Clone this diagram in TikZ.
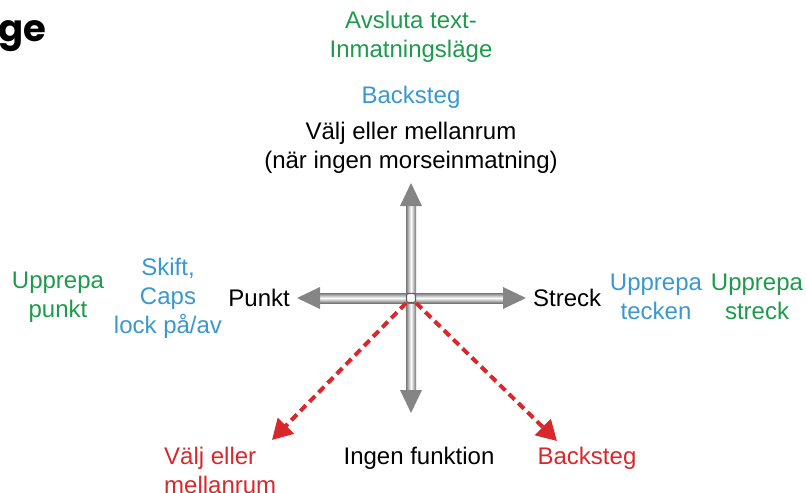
\documentclass[tikz,border=0pt]{standalone}
\usepackage{fontspec}
\setmainfont{Liberation Sans}
\newfontfamily\titlefont{Poppins}
\usetikzlibrary{arrows.meta}
\definecolor{tgreen}{HTML}{1E9A4C}
\definecolor{tblue}{HTML}{3A98CF}
\definecolor{tred}{HTML}{D8282C}
\definecolor{tgray}{HTML}{777777}
\tikzset{
  lbl/.style={inner sep=0pt, align=center, font=\fontsize{24}{29}\selectfont},
  shaftv/.style={left color=tgray, right color=tgray, middle color=white, draw=none},
  shafth/.style={top color=tgray, bottom color=tgray, middle color=white, draw=none},
  headfill/.style={fill=tgray!90, draw=none},
  redarrow/.style={draw=tred, line width=4pt, dash pattern=on 8pt off 5pt, -{Triangle[length=20pt,width=22pt,fill=tred]}},
}
\begin{document}
\begin{tikzpicture}[x=1pt,y=-1pt]
\useasboundingbox (0,0) rectangle (807,493);
\coordinate (c) at (411,298);
\coordinate (tipU) at (411,183);
\coordinate (tipD) at (411,413);
\coordinate (tipL) at (297,298);
\coordinate (tipR) at (526,298);
% shafts
\shade[shaftv] (406,203) rectangle (416,393);
\shade[shafth] (317,293) rectangle (506,303);
% heads
\fill[headfill] (tipU) -- (400,206) -- (422,206) -- cycle;
\fill[headfill] (tipD) -- (400,390) -- (422,390) -- cycle;
\fill[headfill] (tipL) -- (320,287) -- (320,309) -- cycle;
\fill[headfill] (tipR) -- (503,287) -- (503,309) -- cycle;
% center
\node[draw=tgray!80!black, line width=1.2pt, fill=white, inner sep=0pt, minimum size=9pt, rounded corners=2pt] (ctr) at (c) {};
% red dashed
\coordinate (redL) at (272,440);
\coordinate (redR) at (557,441);
\draw[redarrow] (ctr) -- (redL);
\draw[redarrow] (ctr) -- (redR);
% title
\node[anchor=west, inner sep=0pt, font=\titlefont\bfseries\fontsize{37}{42}\selectfont] (title) at (-2,36) {ge};
% top
\node[lbl, text=tgreen] (exit) at (411,37) {Avsluta text-\\Inmatningsläge};
\node[lbl, text=tblue] (bsTop) at (411,97) {Backsteg};
\node[lbl] (valjTop) at (411,148) {Välj eller mellanrum\\(när ingen morseinmatning)};
% left
\node[lbl, anchor=east] (punkt) at (290,298) {Punkt};
\node[lbl, text=tblue] (skift) at (168,298) {Skift,\\Caps\\lock på/av};
\node[lbl, text=tgreen] (uppP) at (58,297) {Upprepa\\punkt};
% right
\node[lbl, anchor=west] (streck) at (533,298) {Streck};
\node[lbl, text=tblue] (uppT) at (656,297) {Upprepa\\tecken};
\node[lbl, text=tgreen] (uppS) at (757,297) {Upprepa\\streck};
% bottom
\node[lbl, text=tred, align=left, anchor=north west] (valjBot) at (164,447) {Välj eller\\mellanrum};
\node[lbl] (ingen) at (419,458) {Ingen funktion};
\node[lbl, text=tred] (bsBot) at (587,458) {Backsteg};
\end{tikzpicture}
\end{document}
